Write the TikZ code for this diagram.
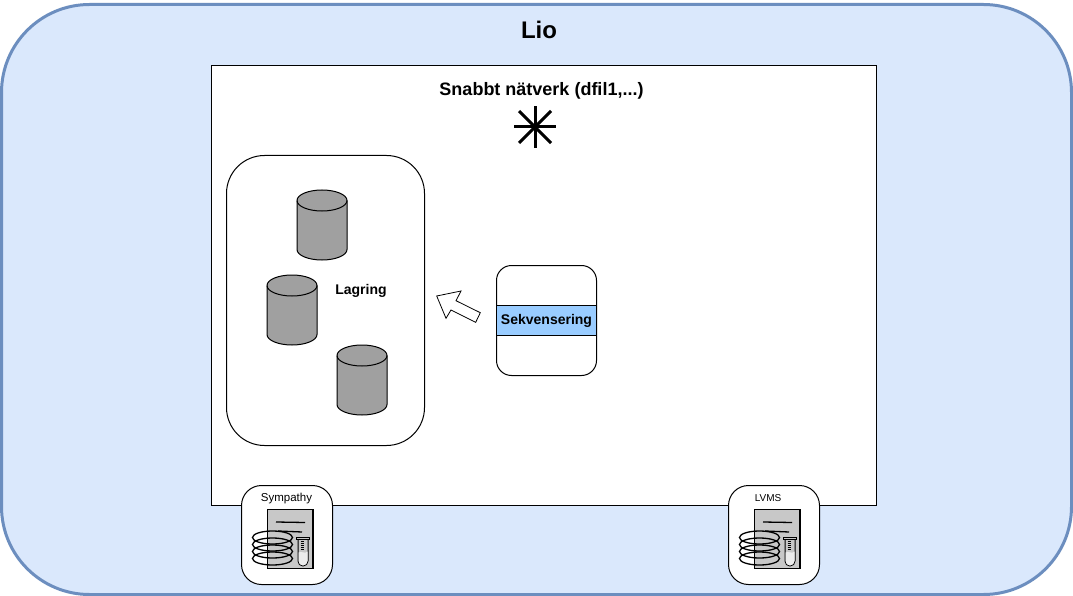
\documentclass[tikz,border=0pt]{standalone}
\usepackage{fontspec}
\setmainfont{Liberation Sans}
\usetikzlibrary{shapes.geometric}
\definecolor{lioFill}{HTML}{DAE8FC}
\definecolor{lioLine}{HTML}{6C8EBF}
\definecolor{seqFill}{HTML}{99CCFF}
\definecolor{cylFill}{HTML}{A0A0A0}
\definecolor{docFill}{HTML}{C8C8C8}
\tikzset{
  ln/.style={draw=black,line width=1pt},
  box/.style={draw=black,line width=1pt,inner sep=0pt,anchor=north west},
  cyl/.pic={
    \path[ln,fill=cylFill] (-25,10.5) -- (-25,59.5) arc[start angle=180,end angle=0,x radius=25,y radius=10.5] -- (25,10.5) arc[start angle=0,end angle=-180,x radius=25,y radius=10.5] -- cycle;
    \draw[ln] (-25,10.5) arc[start angle=180,end angle=0,x radius=25,y radius=10.5];
  },
  lbl/.style={inner sep=0pt,font=\fontsize{#1}{#1}\selectfont\bfseries},
  small/.style={inner sep=0pt,font=\fontsize{#1}{#1}\selectfont},
  icon/.pic={
    % origin: top-left of document sheet
    \draw[draw=black,line width=1.1pt,fill=docFill] (0,0) rectangle (45.5,59);
    \draw[line width=1.3pt] (8.5,12.5) -- (37.5,13);
    \draw[line width=1.3pt] (10.5,21.5) -- (34.5,22.5);
    \foreach \yy in {28,35,42,49}
      \draw[line width=1.3pt] (5,\yy) ellipse[x radius=20,y radius=6.5];
    \draw[line width=1pt,fill=docFill] (30.5,28.5) -- (30.5,51.5) arc[start angle=180,end angle=0,x radius=5,y radius=5] -- (40.5,28.5) -- cycle;
    \fill[docFill!35!white] (31,43) .. controls (34,41) and (37,45) .. (40,42) -- (40,51.5) arc[start angle=0,end angle=180,x radius=4.5,y radius=4.5] -- cycle;
    \draw[line width=1pt,fill=docFill] (29,27.5) rectangle (42,29.5);
    \foreach \yy in {32,34,36,38,40} \draw[line width=.6pt] (33,\yy) -- (36,\yy);
  }
}
\begin{document}
\begin{tikzpicture}[x=1pt,y=-1pt]
\useasboundingbox (0,0) rectangle (1073,596);
\fill[white] (0,0) rectangle (1073,596);
\node[draw=lioLine,fill=lioFill,line width=3pt,rounded corners=88pt,minimum width=1070pt,minimum height=590pt,inner sep=0pt,outer sep=0pt,anchor=north west] (lio) at (1.5,4.5) {};
\node[lbl=24,anchor=center] (liot) at (539,30) {Lio};
\node[box,fill=white,minimum width=665pt,minimum height=439.5pt] (net) at (211,65.5) {};
\node[lbl=18] (nett) at (541.5,90.5) {Snabbt nätverk (dfil1,...)};
\coordinate (star) at (535,127);
\draw[line width=3pt] ([xshift=-21pt]star) -- ([xshift=21pt]star);
\draw[line width=3pt] ([yshift=-21pt]star) -- ([yshift=21pt]star);
\draw[line width=3pt] ([shift={(-16pt,-16pt)}]star) -- ([shift={(16pt,16pt)}]star);
\draw[line width=3pt] ([shift={(-16pt,16pt)}]star) -- ([shift={(16pt,-16pt)}]star);
\node[box,fill=white,rounded corners=38pt,minimum width=198pt,minimum height=290pt] (lag) at (226,155) {};
\pic at (322,190) {cyl};
\pic at (292,275) {cyl};
\pic at (362,345) {cyl};
\node[lbl=14] (lagt) at (361,290.5) {Lagring};
\node[box,fill=white,rounded corners=15pt,minimum width=100pt,minimum height=110pt] (seq) at (496,265) {};
\node[box,fill=seqFill,minimum width=100pt,minimum height=30pt,lbl=14] (seqb) at (496,305) {Sekvensering};
\draw[line width=.8pt,fill=white] (436.7,296) -- (461,291) -- (456,300.7) -- (480.3,312.7) -- (475.7,322.3) -- (451,310) -- (446,318.3) -- cycle;
\node[box,fill=white,rounded corners=20pt,minimum width=91pt,minimum height=99pt] (sym) at (241,485) {};
\node[small=11.5] (symt) at (286.5,498.5) {Sympathy};
\pic at (267.5,509.5) {icon};
\node[box,fill=white,rounded corners=20pt,minimum width=91pt,minimum height=99pt] (lvms) at (728,485) {};
\node[small=10] (lvmst) at (768,498) {LVMS};
\pic at (754.5,509.5) {icon};
\end{tikzpicture}
\end{document}
